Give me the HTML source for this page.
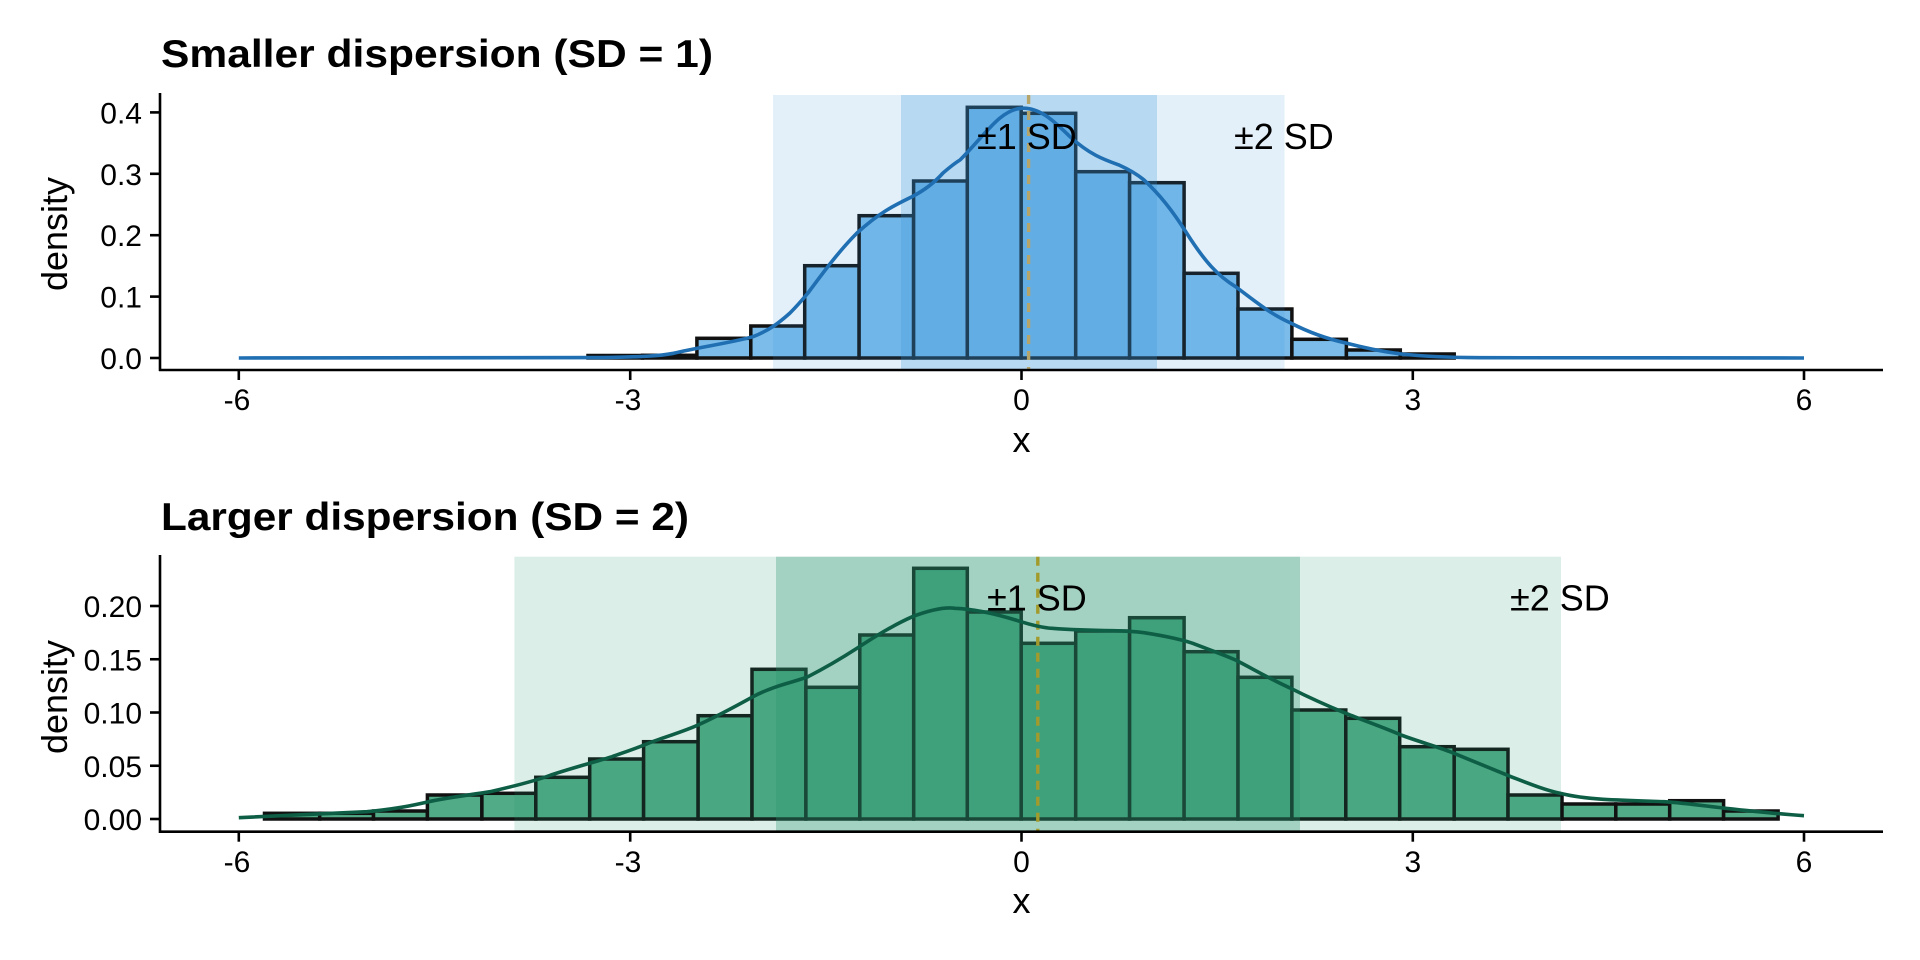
<!DOCTYPE html>
<html><head><meta charset="utf-8"><style>
html,body{margin:0;padding:0;background:#fff;}
svg{display:block;font-family:"Liberation Sans",Arial,sans-serif;}
</style></head><body>
<svg width="1920" height="960" viewBox="0 0 1920 960" xmlns="http://www.w3.org/2000/svg">
<rect width="1920" height="960" fill="#fff"/>

<!-- ================= PANEL 1 ================= -->
<text x="161" y="67" font-size="39" font-weight="bold" textLength="552" lengthAdjust="spacingAndGlyphs">Smaller dispersion (SD = 1)</text>
<g stroke="#111" stroke-width="3.5" fill="#7bbcea">
<rect x="588" y="355.5" width="54.5" height="2.5"/>
<rect x="642.5" y="355.3" width="54.4" height="2.7"/>
<rect x="696.9" y="338.3" width="53.9" height="19.7"/>
<rect x="750.8" y="326" width="53.9" height="32"/>
<rect x="804.7" y="265.7" width="54.4" height="92.3"/>
<rect x="859.1" y="215.7" width="54.5" height="142.3"/>
<rect x="913.6" y="181" width="53.7" height="177"/>
<rect x="967.3" y="107.3" width="53.9" height="250.7"/>
<rect x="1021.2" y="113.3" width="54.5" height="244.7"/>
<rect x="1075.7" y="171.7" width="53.9" height="186.3"/>
<rect x="1129.6" y="182.7" width="54.5" height="175.3"/>
<rect x="1184.1" y="273.3" width="53.9" height="84.7"/>
<rect x="1238" y="309" width="53.9" height="49"/>
<rect x="1291.9" y="339.3" width="54.5" height="18.7"/>
<rect x="1346.4" y="350" width="53.9" height="8"/>
<rect x="1400.3" y="354" width="53.9" height="4"/>
</g>
<rect x="773" y="95" width="511.5" height="275" fill="rgb(60,150,220)" fill-opacity="0.143"/>
<rect x="901" y="95" width="256" height="275" fill="rgb(60,150,220)" fill-opacity="0.253"/>
<line x1="1028.6" y1="95" x2="1028.6" y2="370" stroke="#b5a56a" stroke-width="3.4" stroke-dasharray="9,7"/>
<path d="M238.8,358 L600,357.6 C640,357 660,356 673.6,353.3 C700,347 730,343 753,336.7 C770,330 780,322 790,313 C798,305 803,299 808,293 C825,270 840,250 857,233 C880,212 895,205 912,196.7 C925,190 935,182 943,173 C950,167 955,163 960,160 C985,135 1000,110 1021,108.3 C1040,107 1055,122 1070,136.7 C1090,155 1105,160 1119,165 C1130,170 1138,175 1144,180 C1160,195 1172,210 1186.6,233 C1205,262 1218,276 1235.6,286.7 C1255,301 1270,314 1290.7,323 C1310,333 1328,339 1345.8,343 C1365,348 1385,352 1401,354 C1430,357 1455,357.5 1480,357.7 L1804,358" fill="none" stroke="#1f6fb2" stroke-width="3.6"/>
<text x="977" y="149" font-size="36">±1 SD</text>
<text x="1234" y="149" font-size="36">±2 SD</text>
<g stroke="#000" stroke-width="2.6">
<line x1="160" y1="93" x2="160" y2="371"/>
<line x1="159" y1="370" x2="1883" y2="370"/>
<line x1="150" y1="358" x2="160" y2="358"/>
<line x1="150" y1="296.6" x2="160" y2="296.6"/>
<line x1="150" y1="235.2" x2="160" y2="235.2"/>
<line x1="150" y1="173.8" x2="160" y2="173.8"/>
<line x1="150" y1="112.4" x2="160" y2="112.4"/>
<line x1="238.8" y1="370" x2="238.8" y2="380"/>
<line x1="630.2" y1="370" x2="630.2" y2="380"/>
<line x1="1021.5" y1="370" x2="1021.5" y2="380"/>
<line x1="1412.8" y1="370" x2="1412.8" y2="380"/>
<line x1="1804" y1="370" x2="1804" y2="380"/>
</g>
<g font-size="30" text-anchor="end">
<text x="142" y="369">0.0</text>
<text x="142" y="307.6">0.1</text>
<text x="142" y="246.2">0.2</text>
<text x="142" y="184.8">0.3</text>
<text x="142" y="123.4">0.4</text>
</g>
<g font-size="30" text-anchor="middle">
<text x="237" y="410">-6</text>
<text x="628" y="410">-3</text>
<text x="1021.5" y="410">0</text>
<text x="1412.8" y="410">3</text>
<text x="1804" y="410">6</text>
</g>
<text x="1021.5" y="452" font-size="36" text-anchor="middle">x</text>
<text transform="translate(67,234) rotate(-90)" font-size="36" text-anchor="middle">density</text>

<!-- ================= PANEL 2 ================= -->
<text x="161" y="530" font-size="39" font-weight="bold" textLength="528" lengthAdjust="spacingAndGlyphs">Larger dispersion (SD = 2)</text>
<g stroke="#111" stroke-width="3.5" fill="#50ab86">
<rect x="264.5" y="813.3" width="55.2" height="5.7"/>
<rect x="319.7" y="813.3" width="53.8" height="5.7"/>
<rect x="373.5" y="811" width="53.9" height="8"/>
<rect x="427.4" y="795" width="54.5" height="24"/>
<rect x="481.9" y="793.3" width="53.9" height="25.7"/>
<rect x="535.8" y="777.3" width="53.9" height="41.7"/>
<rect x="589.7" y="759" width="53.9" height="60"/>
<rect x="643.6" y="741.7" width="54.5" height="77.3"/>
<rect x="698.1" y="715.7" width="53.9" height="103.3"/>
<rect x="752" y="669.3" width="53.9" height="149.7"/>
<rect x="805.9" y="687.3" width="53.9" height="131.7"/>
<rect x="859.8" y="635" width="53.9" height="184"/>
<rect x="913.7" y="568.3" width="53.6" height="250.7"/>
<rect x="967.3" y="612" width="53.9" height="207"/>
<rect x="1021.2" y="643.3" width="54.5" height="175.7"/>
<rect x="1075.7" y="631" width="53.9" height="188"/>
<rect x="1129.6" y="617.7" width="54.5" height="201.3"/>
<rect x="1184.1" y="651.7" width="53.9" height="167.3"/>
<rect x="1238" y="677.3" width="53.9" height="141.7"/>
<rect x="1291.9" y="710" width="53.9" height="109"/>
<rect x="1345.8" y="718.3" width="53.9" height="100.7"/>
<rect x="1399.7" y="746.7" width="54.5" height="72.3"/>
<rect x="1454.2" y="749.3" width="53.8" height="69.7"/>
<rect x="1508" y="795" width="54" height="24"/>
<rect x="1562" y="804" width="53.8" height="15"/>
<rect x="1615.8" y="804" width="53.9" height="15"/>
<rect x="1669.7" y="800.7" width="53.9" height="18.3"/>
<rect x="1723.6" y="811" width="54.5" height="8"/>
</g>
<rect x="514.4" y="556.7" width="1046.6" height="275" fill="rgb(40,150,110)" fill-opacity="0.16"/>
<rect x="776" y="556.7" width="524" height="275" fill="rgb(40,150,110)" fill-opacity="0.31"/>
<line x1="1037.8" y1="556.7" x2="1037.8" y2="831.7" stroke="#a39a2c" stroke-width="3.4" stroke-dasharray="9,7"/>
<path d="M238.8,817.7 C300,815 340,813 367,811.7 C395,809 410,806 428.6,801.7 C450,797 470,795 490,791.7 C515,786 535,781 551,775 C575,767 595,762 612,756.7 C628,751 640,747 649,743 C665,737 685,731 698,725 C718,716 738,705 753,696.7 C775,685 795,682 808,676.7 C825,668 842,658 857,648.3 C880,633 898,623 912.4,616.7 C930,610 945,607 955,608.3 C975,609 1000,615 1021,621.7 C1035,626 1045,628 1052,628.3 C1075,630 1100,630.5 1113,630.7 C1125,631 1135,631.5 1144,632.7 C1165,636 1180,639 1192.7,643.3 C1210,650 1222,654 1235.6,660 C1255,670 1270,679 1290.7,688.3 C1310,698 1328,706 1345.8,713.3 C1365,721 1385,728 1401,735 C1420,742 1435,746 1450,751.7 C1475,762 1495,770 1511,776.7 C1530,784 1545,790 1560,793.3 C1575,797 1590,798.5 1603,799.3 C1625,800.5 1645,801 1664,801.7 C1685,803 1705,806 1725.5,808.3 C1755,811.5 1780,814 1804,815.7" fill="none" stroke="#0e5e46" stroke-width="3.6"/>
<text x="987" y="610.5" font-size="36">±1 SD</text>
<text x="1510" y="610.5" font-size="36">±2 SD</text>
<g stroke="#000" stroke-width="2.6">
<line x1="160" y1="555" x2="160" y2="833"/>
<line x1="159" y1="831.7" x2="1883" y2="831.7"/>
<line x1="150" y1="819" x2="160" y2="819"/>
<line x1="150" y1="765.75" x2="160" y2="765.75"/>
<line x1="150" y1="712.5" x2="160" y2="712.5"/>
<line x1="150" y1="659.25" x2="160" y2="659.25"/>
<line x1="150" y1="606" x2="160" y2="606"/>
<line x1="238.8" y1="831.7" x2="238.8" y2="841.7"/>
<line x1="630.2" y1="831.7" x2="630.2" y2="841.7"/>
<line x1="1021.5" y1="831.7" x2="1021.5" y2="841.7"/>
<line x1="1412.8" y1="831.7" x2="1412.8" y2="841.7"/>
<line x1="1804" y1="831.7" x2="1804" y2="841.7"/>
</g>
<g font-size="30" text-anchor="end">
<text x="142" y="830">0.00</text>
<text x="142" y="776.75">0.05</text>
<text x="142" y="723.5">0.10</text>
<text x="142" y="670.25">0.15</text>
<text x="142" y="617">0.20</text>
</g>
<g font-size="30" text-anchor="middle">
<text x="237" y="872">-6</text>
<text x="628" y="872">-3</text>
<text x="1021.5" y="872">0</text>
<text x="1412.8" y="872">3</text>
<text x="1804" y="872">6</text>
</g>
<text x="1021.5" y="913" font-size="36" text-anchor="middle">x</text>
<text transform="translate(67,697) rotate(-90)" font-size="36" text-anchor="middle">density</text>
</svg>
</body></html>
